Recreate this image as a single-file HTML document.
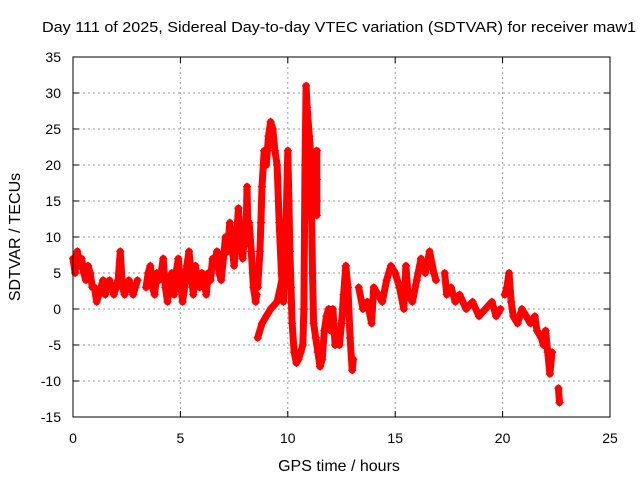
<!DOCTYPE html>
<html><head><meta charset="utf-8"><style>
body{margin:0;background:#fff}
svg{display:block;font-family:"Liberation Sans",sans-serif}
</style></head><body>
<svg id="c" width="640" height="480">
<rect width="640" height="480" fill="#fff"/>
<text x="339" y="32" font-size="15" text-anchor="middle" textLength="594" lengthAdjust="spacingAndGlyphs">Day 111 of 2025, Sidereal Day-to-day VTEC variation (SDTVAR) for receiver maw1</text>
<text x="339" y="471" font-size="16" text-anchor="middle">GPS time / hours</text>
<text transform="translate(20,237) rotate(-90)" font-size="16" text-anchor="middle">SDTVAR / TECUs</text>
<g id="grid"></g><g id="ticks"></g><g id="marks"></g>
<rect x="73" y="57" width="537" height="360" fill="none" stroke="#000"/>
</svg>
<script>
const xTicks=[0,5,10,15,20,25];
const yTicks=[-15,-10,-5,0,5,10,15,20,25,30,35];
// each segment: list of [hour, TECU] samples
const seg1=[[0,7],[0.1,5],[0.2,8],[0.3,6],[0.4,7],[0.5,5],[0.6,4],[0.7,6],[0.8,5],[0.9,3],[1.0,3],[1.1,1],[1.2,2],[1.3,3],[1.4,4],[1.5,2],[1.6,3],[1.7,4],[1.8,3],[1.9,2],[2.0,3],[2.1,4],[2.2,8],[2.3,3],[2.4,2],[2.5,3],[2.6,4],[2.7,3],[2.8,2],[2.9,3],[3.0,4]];
const seg2=[[3.4,3],[3.5,5],[3.6,6],[3.7,3],[3.8,2],[3.9,5],[4.0,4],[4.1,5],[4.2,7],[4.3,3],[4.4,1],[4.5,4],[4.6,5],[4.7,2],[4.8,5],[4.9,7],[5.0,4],[5.1,1],[5.2,3],[5.3,6],[5.4,8],[5.5,5],[5.6,2],[5.7,6],[5.8,4],[5.9,3],[6.0,5],[6.1,4],[6.2,2],[6.3,5],[6.4,4],[6.5,7],[6.6,6],[6.7,8],[6.8,5],[6.9,4],[7.0,7],[7.1,10],[7.2,8],[7.3,12],[7.4,9],[7.5,6],[7.6,9],[7.7,14],[7.8,10],[7.9,7],[8.0,11],[8.05,9],[8.1,17],[8.15,10],[8.2,12],[8.3,8],[8.4,3],[8.5,1],[8.55,2]];
const seg3=[[8.6,3],[8.7,8],[8.75,12],[8.8,17],[8.9,22],[9.0,20],[9.1,24],[9.2,26],[9.3,25],[9.4,22],[9.5,20],[9.6,12],[9.7,5],[9.8,1],[9.9,10],[10.0,22],[10.05,15],[10.1,8],[10.15,3],[10.2,-2],[10.3,-6],[10.4,-7.5],[10.5,-7],[10.6,-6],[10.7,-5],[10.75,0],[10.8,20],[10.85,31],[10.9,28],[11.0,24],[11.05,22],[11.1,15],[11.15,5],[11.2,-2],[11.3,-4],[11.4,-6],[11.5,-8],[11.6,-7],[11.7,-3],[11.8,-1],[11.9,0],[12.0,-3],[12.1,0],[12.2,-5],[12.3,-3],[12.4,-5],[12.5,-2],[12.6,2],[12.7,6],[12.8,3],[12.9,-4],[13.0,-8.5],[13.05,-7]];
const seg4=[[8.6,-4],[8.8,-2],[9.0,-1],[9.2,0],[9.5,1],[9.8,5],[10.0,10]];
const seg5=[[11.35,22],[11.35,18],[11.35,15],[11.35,13]];
const seg6=[[13.3,3],[13.5,0],[13.7,1],[13.9,-2],[14.0,3],[14.2,2],[14.4,1],[14.6,4],[14.8,6],[15.0,5],[15.2,3],[15.4,0],[15.5,6],[15.6,2],[15.8,1],[16.0,4],[16.2,7],[16.4,5],[16.6,8],[16.8,5],[16.9,4]];
const seg7=[[17.3,5],[17.4,2],[17.6,3],[17.8,1],[18.0,2],[18.3,0],[18.6,1],[18.9,-1],[19.2,0],[19.5,1],[19.7,-1],[19.9,0]];
const seg8=[[20.1,2],[20.2,3],[20.3,5],[20.4,1],[20.5,-1],[20.7,-2],[20.9,0],[21.1,-1],[21.3,-2],[21.5,-1],[21.6,-3],[21.8,-4],[21.9,-5],[22.0,-3],[22.1,-6],[22.2,-9],[22.3,-6]];
const seg9=[[22.6,-11],[22.65,-13]];
const segments=[seg1,seg2,seg3,seg4,seg5,seg6,seg7,seg8,seg9];
const X=t=>73+t*537/25, Y=v=>309-v*7.2;
const NS='http://www.w3.org/2000/svg';
const grid=document.getElementById('grid'),ticks=document.getElementById('ticks'),marks=document.getElementById('marks');
function mk(tag,a,p){const e=document.createElementNS(NS,tag);for(const k in a)e.setAttribute(k,a[k]);p.appendChild(e);return e;}
xTicks.forEach(t=>{const x=X(t);
 if(t>0&&t<25){const g=mk('line',{x1:x,x2:x,y1:57,y2:417,stroke:'#999','stroke-dasharray':'2,3'},grid);
 
 }
 mk('line',{x1:x,x2:x,y1:417,y2:411,stroke:'#000'},ticks);mk('line',{x1:x,x2:x,y1:57,y2:63,stroke:'#000'},ticks);
 const l=mk('text',{x:x,y:443,'font-size':14,'text-anchor':'middle'},ticks);l.textContent=t;
 
 });
yTicks.forEach(v=>{const y=Y(v);
 if(v>-15&&v<35){const g=mk('line',{x1:73,x2:610,y1:y,y2:y,stroke:'#999','stroke-dasharray':'2,3'},grid);
 
 }
 mk('line',{x1:73,x2:79,y1:y,y2:y,stroke:'#000'},ticks);mk('line',{x1:610,x2:604,y1:y,y2:y,stroke:'#000'},ticks);
 const l=mk('text',{x:61,y:y+5,'font-size':14,'text-anchor':'end'},ticks);l.textContent=v;
 
 });
segments.forEach(seg=>{
 const d=seg.map((p,i)=>(i?'L':'M')+X(p[0]).toFixed(1)+' '+Y(p[1]).toFixed(1)).join('');
 const p=mk('path',{d:d,fill:'none',stroke:'#f00','stroke-width':7,'stroke-linejoin':'round','stroke-linecap':'round'},marks);
 
 
 seg.forEach(pt=>{const x=X(pt[0]),y=Y(pt[1]);
  const m=mk('path',{d:`M${x-4} ${y}H${x+4}M${x} ${y-4}V${y+4}`,stroke:'#f00','stroke-width':1.3},marks);
  
  });
});
</script>
</body></html>
